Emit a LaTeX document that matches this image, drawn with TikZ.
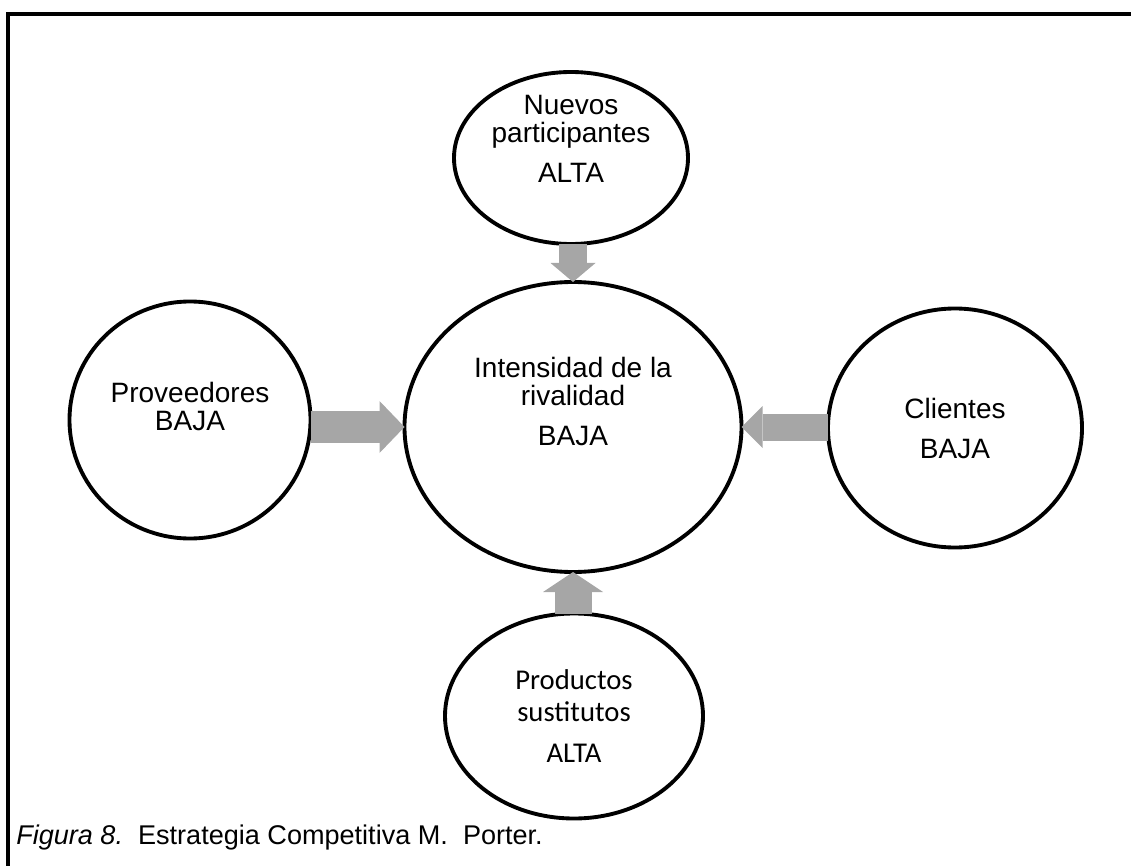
\documentclass[tikz,border=0pt]{standalone}
\usepackage{fontspec}
\setmainfont{Liberation Sans}
\newfontfamily\carlito{Carlito}
\usetikzlibrary{arrows.meta,shapes.geometric}
\definecolor{arrowgray}{RGB}{166,166,166}
\tikzstyle{frame}=[draw=black,line width=2.6pt]
\tikzstyle{force}=[ellipse,draw=black,line width=2.9pt,inner sep=0pt,outer sep=0pt]
\tikzstyle{forcetext}=[align=center,inner sep=0pt,font=\fontsize{21}{21}\selectfont]
\tikzstyle{caption}=[inner sep=0pt,font=\fontsize{20.3}{24}\selectfont]
\tikzset{push/.style n args={3}{draw=arrowgray,line width=#1,-{Triangle[length=#3,width=#2,line width=0pt]}}}

\begin{document}
\begin{tikzpicture}[x=0.75pt,y=-0.75pt]
    \useasboundingbox (0,0) rectangle (1131,866);
    \draw[frame] (8,866) -- (8,14) -- (1131,14);

    % the five forces
    \node[force, minimum width=252.75pt, minimum height=217.5pt,
        label={[forcetext, yshift=19pt]center:{Intensidad de la\\rivalidad\\[9pt]BAJA}}] (rival) at (573,427) {};
    \node[force, minimum width=175.5pt, minimum height=129pt,
        label={[forcetext, yshift=14pt]center:{Nuevos\\participantes\\[9pt]ALTA}}] (nuevos) at (571,158) {};
    \node[force, minimum width=180.75pt, minimum height=177.75pt,
        label={[forcetext, yshift=10.5pt]center:{Proveedores\\BAJA}}] (prov) at (190,420) {};
    \node[force, minimum width=190.5pt, minimum height=179.25pt,
        label={[forcetext]center:{Clientes\\[9pt]BAJA}}] (clientes) at (955,428) {};
    \node[force, minimum width=193.5pt, minimum height=153.75pt,
        label={[forcetext, font=\carlito\fontsize{21.5}{24}\selectfont]center:{Productos\\sustitutos\\[7pt]ALTA}}] (sust) at (574,716) {};

    \draw[push={21pt}{33.75pt}{14.25pt}] (nuevos.south -| rival.north) -- (rival.north);
    \draw[push={24pt}{39pt}{18.75pt}] (prov.east |- rival.west) -- (rival.west);
    \draw[push={20.25pt}{31.5pt}{15.75pt}] (clientes.west |- rival.east) -- (rival.east);
    \draw[push={27.75pt}{45pt}{15pt}] (sust.north -| rival.south) -- (rival.south);

    \node[caption, anchor=base west] (cap) at (16,844)
        {\textit{Figura 8.}\ \ Estrategia Competitiva M.\ \ Porter.};
\end{tikzpicture}
\end{document}
